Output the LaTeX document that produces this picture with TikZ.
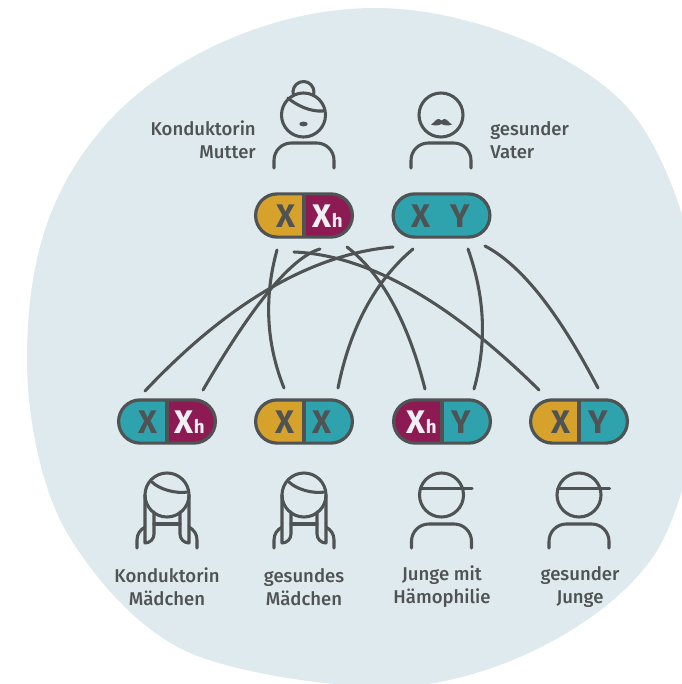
\documentclass[tikz,border=0pt]{standalone}
\usepackage{fontspec}
\setmainfont{Fira Sans}
\newfontface\labelfont{Fira Sans Medium}
\usetikzlibrary{shapes.misc}
\definecolor{blob}{HTML}{DFEAEE}
\definecolor{ink}{HTML}{4F5354}
\definecolor{gold}{HTML}{D7A22C}
\definecolor{teal}{HTML}{2FA3AD}
\definecolor{plum}{HTML}{8E1A54}
\definecolor{chalk}{HTML}{EEF0F3}
\tikzset{
  x=.75pt, y=-.75pt,
  line/.style={draw=ink, line width=2.3pt, line cap=round, line join=round},
  pill/.style 2 args={rounded rectangle, draw=ink, line width=2.4pt, inner sep=0pt,
    minimum width=72.6pt, minimum height=32.4pt,
    path picture={
      \fill[#1] (path picture bounding box.north west) rectangle (path picture bounding box.south);
      \fill[#2] (path picture bounding box.north) rectangle (path picture bounding box.south east);
      \draw[ink, line width=2.4pt] (path picture bounding box.north) -- (path picture bounding box.south);
    }},
  plainpill/.style={rounded rectangle, draw=ink, line width=2.4pt, inner sep=0pt,
    minimum width=72.6pt, minimum height=32.4pt, fill=#1},
  gene/.style={inner sep=0pt, text=ink, font=\fontsize{24.5}{24.5}\selectfont\bfseries},
  geneh/.style={inner sep=0pt, text=chalk, font=\fontsize{24.5}{24.5}\selectfont\bfseries},
  subh/.style={inner sep=0pt, text=chalk, font=\fontsize{14}{14}\selectfont\bfseries},
  caption/.style={inner sep=0pt, text=ink, font=\fontsize{13.9}{17.2}\selectfont\labelfont},
  torso/.pic={\draw[line, rounded corners=13pt] (-30,53) -- (-30,28) -- (30,28) -- (30,53);},
  boy/.pic={
    \draw[line] (0,0) circle[radius=22];
    \draw[line] (-21,-6.5) -- (30.5,-6.5);
    \draw[line, rounded corners=13pt] (-30,53) -- (-30,29) -- (30,29) -- (30,53);
  },
  girl/.pic={
    \draw[line] (0,0) circle[radius=22];
    \draw[line] (-15,-13) .. controls (-8,-6) and (8,-1) .. (21,-3);
    \draw[line] (-22,0) -- (-22,48) .. controls (-17,48) and (-13,44) .. (-13,39) -- (-13,17);
    \draw[line] (22,0) -- (22,48) .. controls (17,48) and (13,44) .. (13,39) -- (13,17);
    \draw[line] (-13,29) -- (13,29);
    \draw[line] (-22,32) .. controls (-27,35) and (-30,39) .. (-30,45) -- (-30,53);
    \draw[line] (22,32) .. controls (27,35) and (30,39) .. (30,45) -- (30,53);
  }
}
\begin{document}
\begin{tikzpicture}
  \useasboundingbox (0,0) rectangle (681,684);
  %background
  \fill[blob] (375,8) .. controls (470,8) and (580,55) .. (627,107)
    .. controls (664,148) and (700,240) .. (702,340)
    .. controls (703,420) and (683,513) .. (653,557)
    .. controls (620,605) and (540,662) .. (440,682)
    .. controls (380,694) and (265,680) .. (200,657)
    .. controls (150,639) and (103,592) .. (67,533)
    .. controls (42,490) and (27,420) .. (27,360)
    .. controls (27,260) and (50,185) .. (110,120)
    .. controls (165,60) and (270,8) .. (375,8) -- cycle;

  %parents
  \draw[line] (303.5,115) circle[radius=22];
  \draw[line] (293.6,95.6) arc[start angle=160, end angle=380, radius=10.5];
  \draw[line] (288,98) .. controls (296,105) and (310,112) .. (323,111);
  \fill[ink] (303.5,124) ellipse[x radius=4.2, y radius=2.4];
  \pic at (304,115) {torso};
  \draw[line] (441,115) circle[radius=22];
  \fill[ink] (431,124.5) .. controls (434,123) and (436,118.5) .. (439,119)
    .. controls (440,119) and (441,120) .. (441.5,120.5) .. controls (442,120) and (443,119) .. (444,119)
    .. controls (447,118.5) and (449,123) .. (452,124.5) .. controls (448,126) and (444,125.5) .. (441.5,124)
    .. controls (439,125.5) and (435,126) .. (431,124.5) -- cycle;
  \pic at (441,115) {torso};
  \node[caption, anchor=east, align=right] (mumtext) at (256,140) {Konduktorin\\Mutter};
  \node[caption, anchor=west, align=left] (dadtext) at (490,140) {gesunder\\Vater};

  %parents' genes
  \node[pill={gold}{plum}] (mum) at (304,215.5) {};
  \node[gene] (mumx) at (286,216) {X};
  \node[geneh] (mumh) at (322,216) {X};
  \node[subh, anchor=base] (mumsub) at ([xshift=11.5pt]mumh.base) {h};
  \node[plainpill=teal] (dad) at (441.5,215.5) {};
  \node[gene] (dadx) at (421,216) {X};
  \node[gene] (dady) at (460,216) {Y};

  %children's genes
  \node[pill={teal}{plum}] (kida) at (167,421.5) {};
  \node[gene] (kidax) at (148,422) {X};
  \node[geneh] (kidah) at (184,422) {X};
  \node[subh, anchor=base] (kidasub) at ([xshift=11.5pt]kidah.base) {h};
  \node[pill={gold}{teal}] (kidb) at (304,421.5) {};
  \node[gene] (kidbx) at (285,422) {X};
  \node[gene] (kidby) at (322,422) {X};
  \node[pill={plum}{teal}] (kidc) at (442,421.5) {};
  \node[geneh] (kidch) at (416,422) {X};
  \node[subh, anchor=base] (kidcsub) at ([xshift=11.5pt]kidch.base) {h};
  \node[gene] (kidcy) at (461,422) {Y};
  \node[pill={gold}{teal}] (kidd) at (579,421.5) {};
  \node[gene] (kiddx) at (561,422) {X};
  \node[gene] (kiddy) at (598,422) {Y};

  %free ends of the lines
  \coordinate (dada) at (393,247);
  \coordinate (duma) at (145,391);
  \coordinate (mumb) at (320,249);
  \coordinate (dumb) at (203,390);
  \coordinate (mumc) at (277,250);
  \coordinate (dumc) at (284,388);
  \coordinate (mumd) at (294,252);
  \coordinate (dumd) at (539,390);
  \coordinate (mume) at (347,247);
  \coordinate (dume) at (425,389);
  \coordinate (dadf) at (413,249);
  \coordinate (dumf) at (338,388);
  \coordinate (dadg) at (468,249);
  \coordinate (dumg) at (474,389);
  \coordinate (dadh) at (485,246);
  \coordinate (dumh) at (598,388);
  \draw[line] (dada) .. controls (312,254) and (229,302) .. (duma);
  \draw[line] (mumb) .. controls (292,257) and (253,304) .. (dumb);
  \draw[line] (mumc) .. controls (264,297) and (266,343) .. (dumc);
  \draw[line] (mumd) .. controls (367,255) and (449,301) .. (dumd);
  \draw[line] (mume) .. controls (382,274) and (408,322) .. (dume);
  \draw[line] (dadf) .. controls (375,281) and (350,328) .. (dumf);
  \draw[line] (dadg) .. controls (485,297) and (487,343) .. (dumg);
  \draw[line] (dadh) .. controls (527,268) and (565,325) .. (dumh);

  %children
  \pic at (167,495) {girl};
  \pic at (304,495) {girl};
  \pic at (441.5,495) {boy};
  \pic at (579,495) {boy};
  \node[caption, align=center] (kidatext) at (167,587) {Konduktorin\\Mädchen};
  \node[caption, align=center] (kidbtext) at (304,587) {gesundes\\Mädchen};
  \node[caption, align=center] (kidctext) at (442,587) {Junge mit\\Hämophilie};
  \node[caption, align=center] (kiddtext) at (580,587) {gesunder\\Junge};
\end{tikzpicture}
\end{document}
